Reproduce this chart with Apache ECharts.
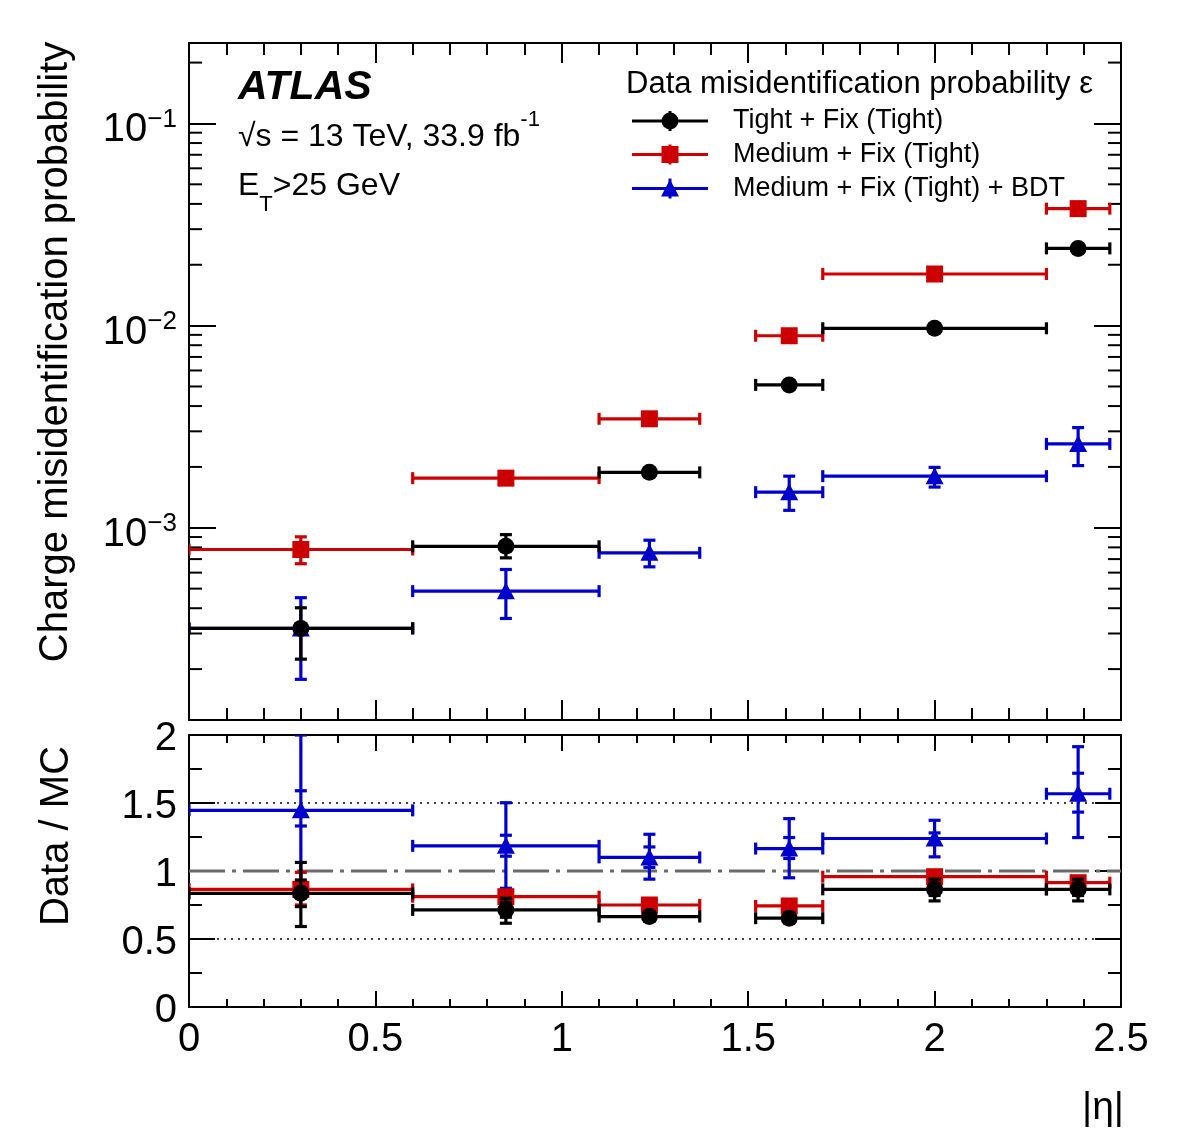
<!DOCTYPE html>
<html><head><meta charset="utf-8">
<script src="https://cdn.jsdelivr.net/npm/echarts@6/dist/echarts.min.js"></script>
<style>html,body{margin:0;padding:0;background:#fff}#c{width:1182px;height:1146px}</style>
</head><body><div id="c"></div>
<script>
const FONT = 'Liberation Sans, Arial, Helvetica, sans-serif';

// |eta| bins
const binLow  = [0.0, 0.6, 1.1, 1.52, 1.7, 2.3];
const binHigh = [0.6, 1.1, 1.37, 1.7, 2.3, 2.47];

const seriesNames = ['Tight + Fix (Tight)', 'Medium + Fix (Tight)', 'Medium + Fix (Tight) + BDT'];

// Top panel: data misidentification probability
const effTight     = [3.18e-4, 8.10e-4, 1.88e-3, 5.09e-3, 9.70e-3, 2.41e-2];
const effTightLo   = [2.24e-4, 7.10e-4, 1.82e-3, 4.85e-3, 9.45e-3, 2.32e-2];
const effTightHi   = [4.02e-4, 9.25e-4, 1.94e-3, 5.35e-3, 9.95e-3, 2.50e-2];
const effMedium    = [7.81e-4, 1.76e-3, 3.46e-3, 8.91e-3, 1.80e-2, 3.79e-2];
const effMediumLo  = [6.64e-4, 1.70e-3, 3.38e-3, 8.70e-3, 1.77e-2, 3.72e-2];
const effMediumHi  = [9.02e-4, 1.82e-3, 3.54e-3, 9.10e-3, 1.83e-2, 3.86e-2];
const effBdt       = [3.18e-4, 4.86e-4, 7.52e-4, 1.50e-3, 1.80e-3, 2.60e-3];
const effBdtLo     = [1.78e-4, 3.56e-4, 6.41e-4, 1.22e-3, 1.59e-3, 2.03e-3];
const effBdtHi     = [4.51e-4, 6.22e-4, 8.68e-4, 1.80e-3, 1.99e-3, 3.13e-3];

// Bottom panel: Data / MC ratio (total and stat error bands)
const ratioTight     = [0.836, 0.714, 0.665, 0.653, 0.865, 0.865];
const ratioTightLo   = [0.592, 0.616, 0.630, 0.620, 0.780, 0.780];
const ratioTightHi   = [1.063, 0.800, 0.700, 0.690, 0.940, 0.940];
const ratioTightSLo  = [0.738, 0.660, 0.640, 0.630, 0.820, 0.820];
const ratioTightSHi  = [0.934, 0.770, 0.690, 0.680, 0.910, 0.910];
const ratioMedium    = [0.865, 0.811, 0.750, 0.743, 0.958, 0.914];
const ratioMediumLo  = [0.750, 0.790, 0.730, 0.720, 0.935, 0.890];
const ratioMediumHi  = [0.990, 0.835, 0.770, 0.765, 0.980, 0.940];
const ratioBdt       = [1.446, 1.185, 1.100, 1.165, 1.239, 1.568];
const ratioBdtLo     = [0.900, 0.873, 0.940, 0.950, 1.104, 1.246];
const ratioBdtHi     = [2.000, 1.502, 1.270, 1.385, 1.373, 1.914];
const ratioBdtSLo    = [1.331, 1.109, 1.026, 1.092, 1.200, 1.433];
const ratioBdtSHi    = [1.590, 1.263, 1.177, 1.246, 1.280, 1.719];

// axes
const yTopMin = 1.12e-4, yTopMax = 0.25;
const logMinorTicks = [2e-4,3e-4,4e-4,5e-4,6e-4,7e-4,8e-4,9e-4,
                       2e-3,3e-3,4e-3,5e-3,6e-3,7e-3,8e-3,9e-3,
                       2e-2,3e-2,4e-2,5e-2,6e-2,7e-2,8e-2,9e-2,2e-1];
const dottedRefLines = [0.5, 1.5];
const dashDotRefLine = [1.0];

const COL_T = '#000000', COL_M = '#cc0000', COL_B = '#0000cc';

function markerShape(kind, cx, cy, color) {
  if (kind === 'circle') return {type:'circle', shape:{cx:cx, cy:cy, r:8.5}, style:{fill:color}};
  if (kind === 'square') return {type:'rect', shape:{x:cx-8.5, y:cy-8.5, width:17, height:17}, style:{fill:color}};
  return {type:'polygon', shape:{points:[[cx, cy-9],[cx+9, cy+8],[cx-9, cy+8]]}, style:{fill:color}};
}

function makeRender(color, marker, withStat) {
  return function (params, api) {
    const xl = api.value(0), xh = api.value(1), v = api.value(2), lo = api.value(3), hi = api.value(4);
    const xc = (xl + xh) / 2;
    const L = api.coord([xl, v]), R = api.coord([xh, v]), C = api.coord([xc, v]);
    const Lo = api.coord([xc, lo]), Hi = api.coord([xc, hi]);
    const st = {stroke: color, lineWidth: 3.2};
    const ch = [];
    const ln = (x1, y1, x2, y2) => ch.push({type:'line', shape:{x1:x1, y1:y1, x2:x2, y2:y2}, style: st});
    ln(L[0], L[1], R[0], R[1]);
    ln(L[0], L[1]-6, L[0], L[1]+6);
    ln(R[0], R[1]-6, R[0], R[1]+6);
    ln(C[0], Lo[1], C[0], Hi[1]);
    ln(C[0]-6, Lo[1], C[0]+6, Lo[1]);
    ln(C[0]-6, Hi[1], C[0]+6, Hi[1]);
    if (withStat) {
      const sLo = api.coord([xc, api.value(5)]), sHi = api.coord([xc, api.value(6)]);
      ln(C[0]-6, sLo[1], C[0]+6, sLo[1]);
      ln(C[0]-6, sHi[1], C[0]+6, sHi[1]);
    }
    ch.push(markerShape(marker, C[0], C[1], color));
    return {type:'group', children: ch};
  };
}

function rows(v, lo, hi, slo, shi) {
  return binLow.map((xl, i) => [xl, binHigh[i], v[i], lo[i], hi[i], slo ? slo[i] : v[i], shi ? shi[i] : v[i]]);
}

function customSeries(name, gi, data, color, marker, withStat) {
  return {
    type:'custom', name: name, coordinateSystem:'cartesian2d',
    xAxisIndex: gi*2, yAxisIndex: gi*2, clip: true, silent: true,
    renderItem: makeRender(color, marker, withStat),
    encode: {x:[0,1], y:[2,3,4]}, data: data, z: 5
  };
}

function xAx(gi, pos, showLabel, majorLen, minorLen) {
  return {
    type:'value', gridIndex: gi, position: pos, min: 0, max: 2.5, interval: 0.5,
    axisLine: {show:true, onZero:false, lineStyle:{color:'#000', width:2}},
    axisTick: {show:true, inside:true, length: majorLen, lineStyle:{color:'#000', width:2}},
    minorTick: {show:true, splitNumber:5, length: minorLen, lineStyle:{color:'#000', width:2}},
    splitLine: {show:false}, minorSplitLine: {show:false},
    axisLabel: {show: showLabel, margin: 13, fontSize: 40, fontFamily: FONT, color:'#000',
      formatter: v => String(v)}
  };
}

const logLabel = {
  show: true, margin: 12, color:'#000', fontFamily: FONT, showMinLabel:false, showMaxLabel:false,
  padding: [10, 0, 0, 0],
  formatter: function (v) {
    const e = Math.log10(v), r = Math.round(e);
    if (Math.abs(e - r) > 1e-6) return '';
    return '{b|10}{s|' + (r < 0 ? '\u2212' + (-r) : r) + '}';
  },
  rich: {
    b: {fontSize: 40, fontFamily: FONT, color:'#000', verticalAlign:'bottom', padding:[4,0,0,0]},
    s: {fontSize: 26, fontFamily: FONT, color:'#000', verticalAlign:'top'}
  }
};

const option = {
  animation: false,
  backgroundColor: '#ffffff',
  grid: [
    {left:189, top:43, width:932, height:677},
    {left:189, top:735, width:932, height:272}
  ],
  xAxis: [
    xAx(0, 'bottom', false, 20, 12),
    xAx(0, 'top', false, 20, 12),
    xAx(1, 'bottom', true, 16, 8),
    xAx(1, 'top', false, 16, 8)
  ],
  yAxis: [
    {type:'log', logBase:10, gridIndex:0, position:'left', min: yTopMin, max: yTopMax,
     axisLine:{show:true, onZero:false, lineStyle:{color:'#000', width:2}},
     axisTick:{show:true, inside:true, length:27, lineStyle:{color:'#000', width:2}},
     minorTick:{show:false}, splitLine:{show:false}, axisLabel: logLabel},
    {type:'log', logBase:10, gridIndex:0, position:'right', min: yTopMin, max: yTopMax,
     axisLine:{show:true, onZero:false, lineStyle:{color:'#000', width:2}},
     axisTick:{show:true, inside:true, length:27, lineStyle:{color:'#000', width:2}},
     minorTick:{show:false}, splitLine:{show:false}, axisLabel:{show:false}},
    {type:'value', gridIndex:1, position:'left', min:0, max:2, interval:0.5,
     axisLine:{show:true, onZero:false, lineStyle:{color:'#000', width:2}},
     axisTick:{show:true, inside:true, length:26, lineStyle:{color:'#000', width:2}},
     minorTick:{show:true, splitNumber:2, length:13, lineStyle:{color:'#000', width:2}},
     splitLine:{show:false}, minorSplitLine:{show:false},
     axisLabel:{show:true, margin:12, color:'#000',
       formatter: v => '{a|' + v + '}',
       rich: {a: {fontSize:40, fontFamily:FONT, color:'#000', padding:[8,0,0,0]}}}},
    {type:'value', gridIndex:1, position:'right', min:0, max:2, interval:0.5,
     axisLine:{show:true, onZero:false, lineStyle:{color:'#000', width:2}},
     axisTick:{show:true, inside:true, length:26, lineStyle:{color:'#000', width:2}},
     minorTick:{show:true, splitNumber:2, length:13, lineStyle:{color:'#000', width:2}},
     splitLine:{show:false}, minorSplitLine:{show:false}, axisLabel:{show:false}}
  ],
  series: [
    // minor ticks of the log axis (both sides)
    {type:'custom', coordinateSystem:'cartesian2d', xAxisIndex:0, yAxisIndex:0, silent:true, z:3,
     data: logMinorTicks.map(v => [0, v]), encode:{x:0, y:1},
     renderItem: function (params, api) {
       const v = api.value(1);
       const pl = api.coord([0, v]), pr = api.coord([2.5, v]);
       const st = {stroke:'#000', lineWidth:2};
       return {type:'group', children:[
         {type:'line', shape:{x1:pl[0], y1:pl[1], x2:pl[0]+13, y2:pl[1]}, style:st},
         {type:'line', shape:{x1:pr[0]-13, y1:pr[1], x2:pr[0], y2:pr[1]}, style:st}
       ]};
     }},
    // reference lines in ratio panel
    ...dottedRefLines.map(r => ({type:'line', xAxisIndex:2, yAxisIndex:2, symbol:'none', silent:true, z:2,
      data:[[0, r],[2.5, r]], lineStyle:{color:'#000', width:1.5, type:[2,5]}})),
    ...dashDotRefLine.map(r => ({type:'line', xAxisIndex:2, yAxisIndex:2, symbol:'none', silent:true, z:2,
      data:[[0, r],[2.5, r]], lineStyle:{color:'#6a6a6a', width:3, type:[36,7,4,7]}})),
    // top panel
    customSeries(seriesNames[2], 0, rows(effBdt, effBdtLo, effBdtHi), COL_B, 'triangle', false),
    customSeries(seriesNames[1], 0, rows(effMedium, effMediumLo, effMediumHi), COL_M, 'square', false),
    customSeries(seriesNames[0], 0, rows(effTight, effTightLo, effTightHi), COL_T, 'circle', false),
    // ratio panel
    customSeries(seriesNames[2], 1, rows(ratioBdt, ratioBdtLo, ratioBdtHi, ratioBdtSLo, ratioBdtSHi), COL_B, 'triangle', true),
    customSeries(seriesNames[1], 1, rows(ratioMedium, ratioMediumLo, ratioMediumHi), COL_M, 'square', false),
    customSeries(seriesNames[0], 1, rows(ratioTight, ratioTightLo, ratioTightHi, ratioTightSLo, ratioTightSHi), COL_T, 'circle', true)
  ],
  graphic: []
};

// texts
const g = option.graphic;
g.push({type:'text', x:238, y:88, style:{text:'ATLAS', fontSize:41, fontWeight:'bold', fontStyle:'italic',
  fontFamily:FONT, fill:'#000', align:'left', verticalAlign:'middle'}});
g.push({type:'text', x:238, y:109, style:{text:'{n|\u221As = 13 TeV, 33.9 fb}{sup|-1}', align:'left', verticalAlign:'top',
  fill:'#000', rich:{
    n:{fontSize:32, fontFamily:FONT, fill:'#000', verticalAlign:'bottom', padding:[12,0,0,0]},
    sup:{fontSize:22, fontFamily:FONT, fill:'#000', verticalAlign:'top'}}}});
g.push({type:'text', x:238, y:170, style:{text:'{n|E}{sub|T}{n|>25 GeV}', align:'left', verticalAlign:'top',
  fill:'#000', rich:{
    n:{fontSize:32, fontFamily:FONT, fill:'#000', verticalAlign:'top'},
    sub:{fontSize:22, fontFamily:FONT, fill:'#000', verticalAlign:'bottom', padding:[24,0,0,0]}}}});
// legend
g.push({type:'text', x:626, y:84, style:{text:'Data misidentification probability \u03B5', fontSize:31,
  fontFamily:FONT, fill:'#000', align:'left', verticalAlign:'middle'}});
const legRows = [121, 154.5, 188.5];
const legCols = [COL_T, COL_M, COL_B];
const legMarks = ['circle', 'square', 'triangle'];
legRows.forEach((y, i) => {
  g.push({type:'line', shape:{x1:632, y1:y, x2:708, y2:y}, style:{stroke:legCols[i], lineWidth:3}});
  g.push({type:'line', shape:{x1:670, y1:y-10, x2:670, y2:y+10}, style:{stroke:legCols[i], lineWidth:3}});
  g.push(markerShape(legMarks[i], 670, y, legCols[i]));
  g.push({type:'text', x:733, y:y, style:{text:seriesNames[i], fontSize:27, fontFamily:FONT, fill:'#000',
    align:'left', verticalAlign:'middle'}});
});
// axis titles
g.push({type:'text', x:55.5, y:352, rotation:Math.PI/2, style:{text:'Charge misidentification probability',
  fontSize:40, fontFamily:FONT, fill:'#000', align:'center', verticalAlign:'middle'}});
g.push({type:'text', x:57, y:836, rotation:Math.PI/2, style:{text:'Data / MC',
  fontSize:40, fontFamily:FONT, fill:'#000', align:'center', verticalAlign:'middle'}});
g.push({type:'text', x:1124, y:1108, style:{text:'|\u03B7|', fontSize:39, fontFamily:FONT, fill:'#000',
  align:'right', verticalAlign:'middle'}});

const chart = echarts.init(document.getElementById('c'), null, {renderer:'canvas'});
chart.setOption(option);
</script>
</body></html>
